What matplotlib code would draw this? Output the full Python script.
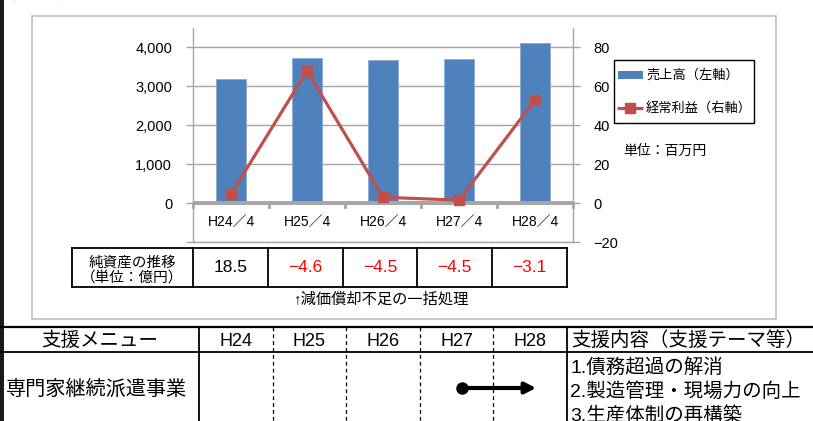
import matplotlib
matplotlib.use('Agg')
import matplotlib.pyplot as plt
import numpy as np

plt.rcParams['font.family'] = ['Liberation Sans', 'Noto Sans CJK JP', 'DejaVu Sans']

# データ
years = ['H24／4', 'H25／4', 'H26／4', 'H27／4', 'H28／4']
sales = [3180, 3740, 3680, 3710, 4110]          # 売上高(百万円)
profit = [4.6, 68, 3, 1.5, 53]                   # 経常利益(百万円)
net_assets = [18.5, -4.6, -4.5, -4.5, -3.1]      # 純資産(億円)
menu_years = ['H24', 'H25', 'H26', 'H27', 'H28']
support_name = '専門家継続派遣事業'
support_start = 'H27'
support_end = 'H28'
support_items = ['1.債務超過の解消', '2.製造管理・現場力の向上', '3.生産体制の再構築']

W, H = 813, 421
fig = plt.figure(figsize=(W / 100, H / 100), dpi=100)
fig.patch.set_facecolor('white')

grey = '#A6A6A6'
blue = '#4F81BD'
red = '#C0504D'

# グラフ本体
ax = fig.add_axes([193 / W, (H - 242) / H, 380 / W, 214 / H])
ax2 = ax.twinx()
x = np.arange(len(years))
ax.set_xlim(-0.5, len(years) - 0.5)
ax.set_ylim(-1000, 4500)
ax2.set_ylim(-20, 90)

ax.set_axisbelow(True)
ax.set_yticks(range(-1000, 4001, 1000))
ax.set_yticklabels(['' if v < 0 else f'{v:,}' for v in range(-1000, 4001, 1000)])
ax.yaxis.grid(True, color=grey, lw=1)
ax.set_xticks([])
ax.tick_params(axis='y', length=5, pad=10, labelsize=10.5, color=grey, width=1)
ax2.set_yticks(range(-20, 81, 20))
ax2.set_yticklabels([str(v).replace('-', '−') for v in range(-20, 81, 20)])
ax2.tick_params(axis='y', length=5, pad=9.5, labelsize=10.5, color=grey, width=1)
for s in ['top', 'right']:
    ax.spines[s].set_visible(False)
for s in ['top', 'left', 'bottom']:
    ax2.spines[s].set_visible(False)
for sp in [ax.spines['left'], ax.spines['bottom'], ax2.spines['right']]:
    sp.set_color(grey)
    sp.set_linewidth(1)

bars = ax.bar(x, sales, width=0.4, color=blue, edgecolor='#8EAADB', linewidth=0.6, zorder=2)
ax.axhline(0, color=grey, lw=2.8, zorder=3)
for b in np.arange(-0.5, len(years)):
    ax.plot([b, b], [0, -110], color=grey, lw=2, zorder=3, clip_on=False)
for i, lab in enumerate(years):
    ax.text(i, -490, lab, ha='center', va='center', fontsize=10)

line = ax2.plot(x, profit, color=red, lw=2.3, marker='s', ms=7.5, zorder=4)

# 周りの枠と表(ピクセル座標)
ov = fig.add_axes([0, 0, 1, 1], zorder=5)
ov.set_xlim(0, W)
ov.set_ylim(H, 0)
ov.axis('off')

ov.add_patch(plt.Rectangle((32, 16), 744, 303, fill=False, ec='#BFBFBF', lw=1.2))
ov.add_patch(plt.Rectangle((0, 0), 4, H, color='#1A1A1A', lw=0))
ov.text(12, 2, '売上高・経常利益の推移', fontsize=15, fontweight='bold', va='bottom', ha='left')

# 凡例
ov.add_patch(plt.Rectangle((614, 60), 140, 63, fill=False, ec='black', lw=1))
ov.add_patch(plt.Rectangle((618, 71), 25, 8, color=blue, lw=0))
ov.plot([617, 643], [108, 108], color=red, lw=2.3, solid_capstyle='butt')
ov.plot([630], [108], color=red, marker='s', ms=7.5)
ov.text(646, 75, '売上高（左軸）', fontsize=9.5, va='center', ha='left')
ov.text(646, 108, '経常利益（右軸）', fontsize=9.5, va='center', ha='left')
ov.text(623, 151, '単位：百万円', fontsize=10, va='center', ha='left')

# 純資産の表
col_w = 74.8
edges = [72] + [193 + col_w * k for k in range(len(net_assets) + 1)]
t_top, t_bot = 248, 287
for e in edges:
    ov.plot([e, e], [t_top, t_bot], color='black', lw=1.3)
ov.plot([edges[0], edges[-1]], [t_top, t_top], color='black', lw=1.3)
ov.plot([edges[0], edges[-1]], [t_bot, t_bot], color='black', lw=1.3)
ov.text((edges[0] + edges[1]) / 2, 263, '純資産の推移', fontsize=10.5, ha='center', va='center')
ov.text((edges[0] + edges[1]) / 2, 278, '（単位：億円）', fontsize=10.5, ha='center', va='center')
for i, v in enumerate(net_assets):
    cx = (edges[i + 1] + edges[i + 2]) / 2
    ov.text(cx, 268, f'{v:.1f}'.replace('-', '−'), fontsize=12.5, ha='center', va='center',
            color='black' if v >= 0 else '#FF0000')
ov.text(382, 299, '↑減価償却不足の一括処理', fontsize=11, ha='center', va='center')

# 支援メニュー表
row1, row2 = 327, 352
ov.plot([0, W], [row1, row1], color='black', lw=1.6)
ov.plot([0, W], [row2, row2], color='black', lw=1.3)
yr_edges = [199 + 73.6 * k for k in range(len(menu_years) + 1)]
for k, e in enumerate(yr_edges):
    if k == 0 or k == len(yr_edges) - 1:
        ov.plot([e, e], [row1, H], color='black', lw=1.3)
    else:
        ov.plot([e, e], [row1, H], color='black', lw=0.9, ls=(0, (3, 2.5)))
ov.text(100, 341, '支援メニュー', fontsize=14, ha='center', va='center')
for k, yl in enumerate(menu_years):
    ov.text((yr_edges[k] + yr_edges[k + 1]) / 2, 341, yl, fontsize=13, ha='center', va='center')
ov.text(688, 341, '支援内容（支援テーマ等）', fontsize=14, ha='center', va='center')
ov.text(6, 389, support_name, fontsize=14.5, ha='left', va='center')

i0 = menu_years.index(support_start)
i1 = menu_years.index(support_end)
x0 = (yr_edges[i0] + yr_edges[i0 + 1]) / 2 + 5
x1 = (yr_edges[i1] + yr_edges[i1 + 1]) / 2 + 6
ov.annotate('', xy=(x1, 388), xytext=(x0, 388),
            arrowprops=dict(arrowstyle='-|>', lw=3, color='black', mutation_scale=16,
                            shrinkA=0, shrinkB=0))
ov.plot([x0], [388], marker='o', ms=8, color='black')
for k, item in enumerate(support_items):
    ov.text(570, 367 + 24.5 * k, item, fontsize=14, ha='left', va='center')

fig.savefig('out.png', dpi=100)
